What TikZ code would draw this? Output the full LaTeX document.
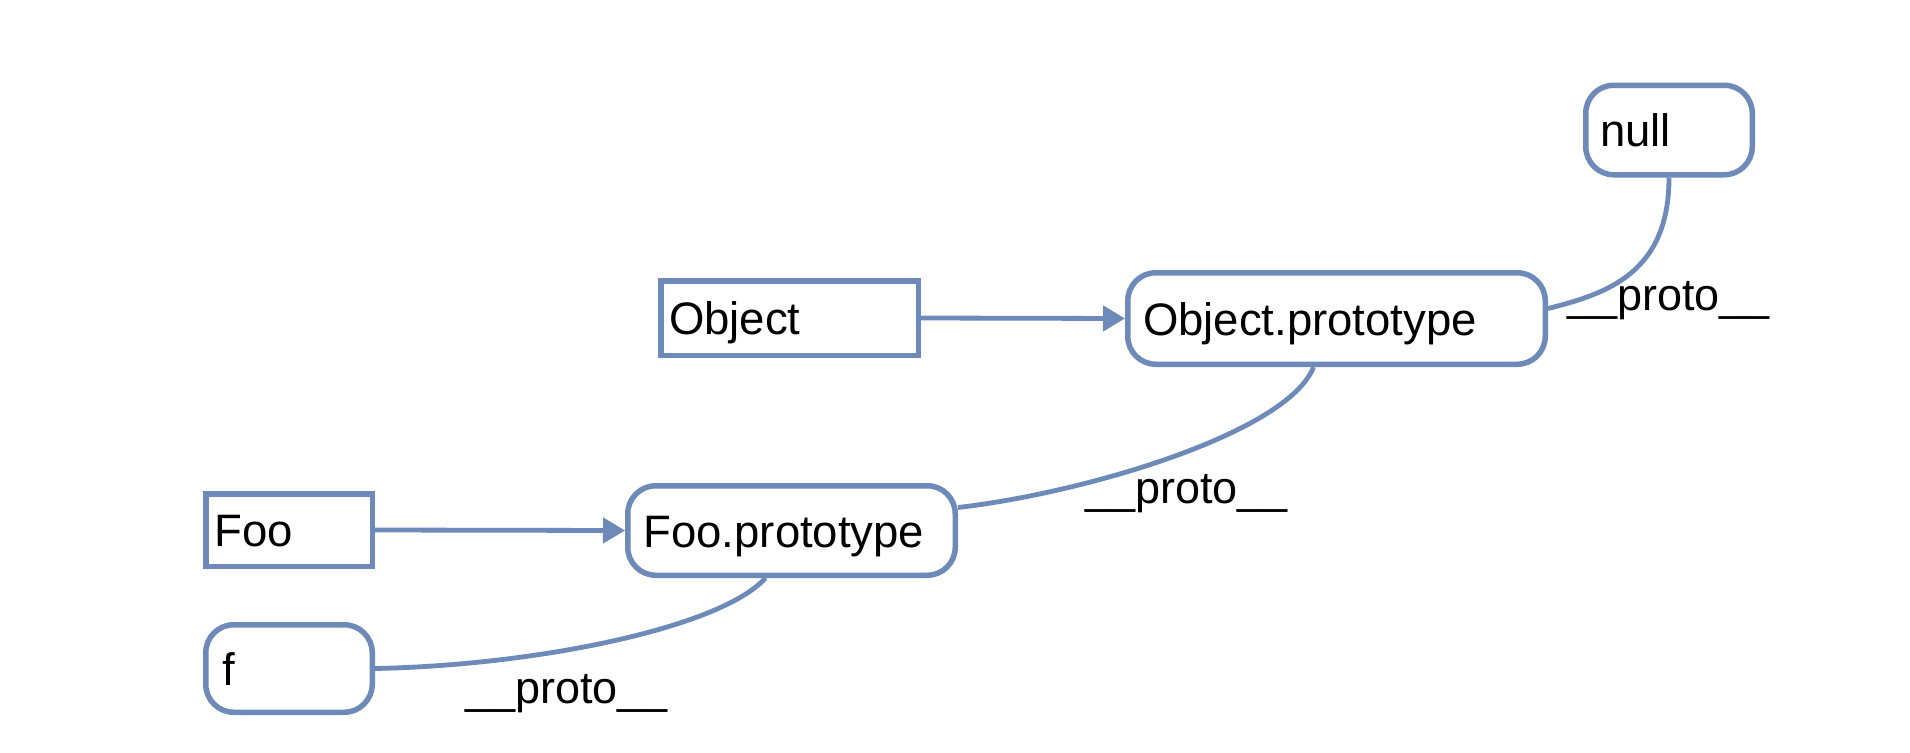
\documentclass[tikz,border=0pt]{standalone}
\usepackage{fontspec}
\setmainfont{Liberation Sans}
\usetikzlibrary{arrows.meta}
\definecolor{boxblue}{RGB}{110,138,184}
\begin{document}
\begin{tikzpicture}[x=1pt,y=-1pt,
  bxs/.style={draw=boxblue, line width=5.5pt, fill=white,
    font=\fontsize{45.5}{50}\selectfont, text height=33pt, text depth=0pt,
    align=left, inner ysep=0pt},
  bxr/.style={bxs, rounded corners=28pt},
  link/.style={draw=boxblue, line width=4.8pt},
  arr/.style={link, -{Triangle[length=22pt,width=25pt]}},
  lbl/.style={font=\fontsize{45}{50}\selectfont, anchor=base west, inner sep=0pt}]
\useasboundingbox (0,0) rectangle (1910,752);
\fill[white] (0,0) rectangle (1910,752);

\node[bxr, minimum width=166.5pt, minimum height=89.5pt, inner xsep=14.5pt, text width=137.5pt] (null) at (1669,130) {null};
\node[bxs, minimum width=257.5pt, minimum height=74.5pt, inner xsep=8.25pt, text width=241pt] (obj) at (789.5,318) {Object};
\node[bxr, minimum width=417.5pt, minimum height=91.5pt, inner xsep=15.25pt, text width=387pt] (op) at (1336.5,318.5) {Object.prototype};
\node[bxs, minimum width=166.5pt, minimum height=72.5pt, inner xsep=8.75pt, text width=149pt] (foo) at (289,530) {Foo};
\node[bxr, minimum width=327.5pt, minimum height=89.5pt, inner xsep=15.75pt, text width=296pt] (fp) at (791.5,530.5) {Foo.prototype};
\node[bxr, minimum width=166.5pt, minimum height=87.5pt, inner xsep=16.25pt, text width=134pt] (f) at (289,668.5) {f};

\draw[arr] (obj.east) -- (op.west);
\draw[arr] (foo.east) -- (fp.west);
\draw[link] (null.south) .. controls +(0,95) and +(60,-15) .. ([yshift=10pt]op.east);
\draw[link] ([xshift=-23pt]op.south) .. controls +(-25,65) and +(130,-15) .. ([yshift=23pt]fp.east);
\draw[link] ([xshift=-26pt]fp.south) .. controls +(-45,50) and +(160,-3) .. (f.east);

\node[lbl] (l1) at (1567,310) {\_\_proto\_\_};
\node[lbl] (l2) at (1085,503) {\_\_proto\_\_};
\node[lbl] (l3) at (465,703) {\_\_proto\_\_};
\end{tikzpicture}
\end{document}
